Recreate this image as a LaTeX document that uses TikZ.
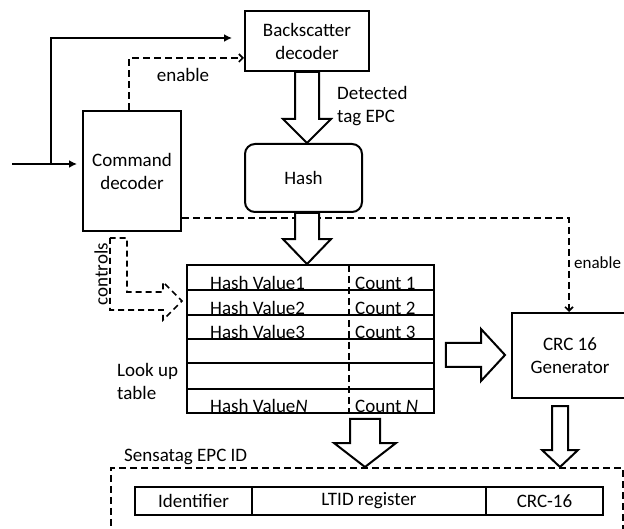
\documentclass[tikz,border=0pt]{standalone}
\usepackage{fontspec}
\setmainfont{Carlito}
\usetikzlibrary{arrows.meta,calc,positioning}

\begin{document}
\begin{tikzpicture}[x=1pt,y=-1pt,
  every node/.style={font=\fontsize{19}{23}\selectfont},
  blk/.style={draw,line width=2pt,align=center,inner sep=0pt},
  field/.style={draw,line width=1.8pt,outer sep=0pt,minimum height=28pt,inner sep=0pt},
  sig/.style={line width=1.8pt,-{Latex[length=8pt,width=8pt]}},
  en/.style={line width=1.6pt,dash pattern=on 7pt off 4pt,-{Straight Barb[length=4pt,width=8pt]}},
  fatdown/.style n args={3}{line width=2pt,fill=white,to path={let \p1=(\tikztostart),\p2=(\tikztotarget) in
    (\x1-#1,\y1) -- (\x1-#1,\y2+#3) -- (\x1-#2,\y2+#3) -- (\x1,\y2) -- (\x1+#2,\y2+#3) -- (\x1+#1,\y2+#3) -- (\x1+#1,\y1) -- cycle}},
  fatright/.style n args={3}{line width=2pt,fill=white,to path={let \p1=(\tikztostart),\p2=(\tikztotarget) in
    (\x1,\y1+#1) -- (\x2-#3,\y1+#1) -- (\x2-#3,\y1+#2) -- (\x2,\y1) -- (\x2-#3,\y1-#2) -- (\x2-#3,\y1-#1) -- (\x1,\y1-#1) -- cycle}}]
\useasboundingbox (0,0) rectangle (624,529);
\clip (0,0) rectangle (624,529);

% blocks
\node[blk,minimum width=124pt,minimum height=60pt] (bsd) at (307,41) {Backscatter\\decoder};
\node[blk,minimum width=98pt,minimum height=120pt] (cmd) at (132,171) {Command\\decoder};
\node[blk,rounded corners=10pt,minimum width=117pt,minimum height=68pt] (hash) at (303.5,178) {Hash};
\node[blk,minimum width=116pt,minimum height=85pt] (crc) at (570,355.5) {CRC 16\\Generator};

% look up table
\node[draw,line width=1.8pt,minimum width=247pt,minimum height=148pt,inner sep=0pt] (lut) at (310.5,339) {};
\foreach \y in {290,315,339,389}
  \draw[line width=1.6pt] (187,\y) -- (434,\y);
\draw[line width=2.4pt] (187,363) -- (434,363);
\draw[line width=1.6pt,dash pattern=on 7pt off 4pt] (349,265) -- (349,413);
\foreach \y/\h in {289.5/1,314.5/2,338.5/3,412.5/\textit{N}} {
  \node[anchor=base west,inner sep=0pt] (hv\y) at (210,\y) {Hash Value\h};
  \node[anchor=base west,inner sep=0pt] (cn\y) at (355,\y) {Count \h};
}
\node[align=left,anchor=west,inner sep=0pt] (lutlbl) at (117,381) {Look up\\table};

% sensatag EPC ID
\node[draw,line width=1.6pt,dash pattern=on 7pt off 4pt,minimum width=512pt,minimum height=80pt,inner sep=0pt,anchor=north west] (epc) at (110,467) {};
\node[anchor=west,inner sep=0pt] (epclbl) at (124,457) {Sensatag EPC ID};
\node[field,minimum width=117pt,anchor=west] (idf) at (135,501) {Identifier};
\node[field,minimum width=234pt,right=0pt of idf] (ltid) {LTID register};
\node[field,minimum width=117pt,right=0pt of ltid] (crcf) {CRC-16};

% signals
\coordinate (in) at (12,164);
\coordinate (br) at (51,164);
\draw[sig,shorten >=5pt] (in) -- (in -| cmd.west);
\draw[sig,shorten >=12pt] (br) |- ($(bsd.west)+(0,-3)$);
\draw[en] ($(cmd.north)+(-3,0)$) |- ($(bsd.west)+(0,17)$);
\node[inner sep=0pt] (en1) at (183,75) {enable};
\draw[en] ($(cmd.east)+(0,47)$) -| ($(crc.north)+(-1,0)$);
\node[anchor=west,inner sep=0pt,font=\fontsize{17}{20}\selectfont] (en2) at (574,263) {enable};

% controls
\draw[line width=1.6pt,dash pattern=on 6pt off 4pt] (110,238) -- (110,310) -- (163,310) -- (163,320) -- (182,301) -- (163,282) -- (163,292) -- (127,292) -- (127,238) -- cycle;
\node[rotate=90,inner sep=0pt] (ctl) at (101,274) {controls};

% fat arrows
\coordinate (h1) at ($(hash.south)+(3.5,0)$);
\coordinate (l1) at ($(lut.south)+(54.5,5)$);
\coordinate (c1) at ($(crc.south)+(-10,7)$);
\coordinate (t1) at ($(lut.east)+(11,16)$);
\coordinate (t2) at ($(crc.west)+(-6,0)$);
\draw[fatdown={12pt}{24pt}{24pt}] (bsd.south) to (hash.north);
\draw[fatdown={12pt}{24pt}{25pt}] (h1) to (lut.north);
\draw[fatdown={15pt}{31pt}{24pt}] (l1) to (epc.north);
\draw[fatdown={8pt}{18pt}{17pt}] (c1) to (epc.north);
\draw[fatright={12pt}{26pt}{24pt}] (t1) to (t2);
\node[align=left,anchor=west,inner sep=0pt] (det) at (337,106) {Detected\\tag EPC};
\end{tikzpicture}
\end{document}
